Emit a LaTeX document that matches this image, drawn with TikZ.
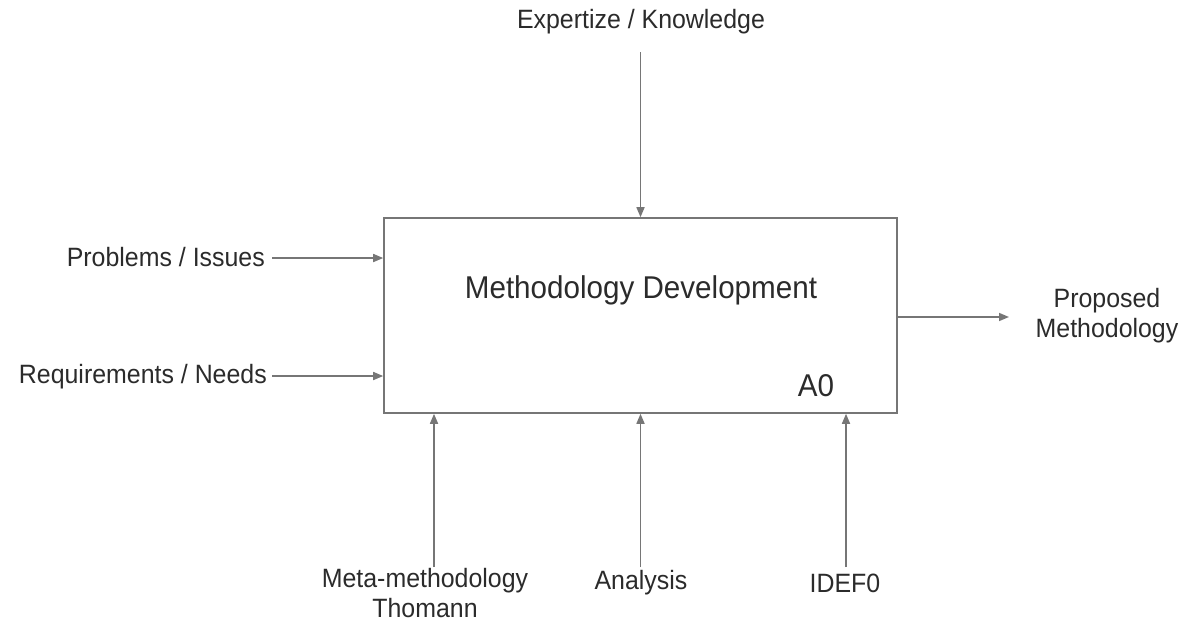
\documentclass[tikz,border=0pt]{standalone}
\usepackage{fontspec}
\setmainfont{Liberation Sans}[FakeStretch=0.94]
\usetikzlibrary{arrows.meta,positioning}
\definecolor{linegray}{HTML}{767676}
\definecolor{textgray}{HTML}{2B2B2B}
\tikzset{
  flow/.style={draw=linegray, line width=1.6pt, -{Triangle[length=10pt,width=8pt]}},
  lbl/.style={text=textgray, inner sep=0pt, font=\fontsize{26.5}{30}\selectfont, align=center},
  big/.style={text=textgray, inner sep=0pt, font=\fontsize{31.5}{36}\selectfont}
}
\begin{document}
\begin{tikzpicture}[x=1pt,y=-1pt]
        \useasboundingbox[fill=white] (0,0) rectangle (1184,621);
        % activity box
        \node[draw=linegray, line width=1.6pt, minimum width=513pt, minimum height=195pt] (box) at (640.5,315.5) {};
        \node[big] (title) at (641,290) {Methodology Development};
        \node[big] (code) at (816,386) {A0};
        % labels
        \node[lbl] (know) at (641,22) {Expertize / Knowledge};
        \node[lbl, anchor=east] (prob) at (265,257) {Problems / Issues};
        \node[lbl, anchor=east] (req) at (267,377) {Requirements / Needs};
        \node[lbl] (prop) at (1107,316) {Proposed\\Methodology};
        \node[lbl] (meta) at (425,593) {Meta-methodology\\Thomann};
        \node[lbl] (anal) at (641,583) {Analysis};
        \node[lbl] (idef) at (845,583) {IDEF0};
        % arrow tails
        \coordinate (knowin) at (640.5,52);
        \coordinate (probin) at (272,258);
        \coordinate (reqin) at (272,376);
        \coordinate (propout) at (1009,317);
        \coordinate (metain) at (434,567);
        \coordinate (analin) at (640.5,567);
        \coordinate (idefin) at (846,567);
        % connectors
        \draw[flow] (knowin) to (box.north);
        \draw[flow] (probin) to (box.west |- probin);
        \draw[flow] (reqin) to (box.west |- reqin);
        \draw[flow] (box.east |- propout) to (propout);
        \draw[flow] (metain) to (metain |- box.south);
        \draw[flow] (analin) to (analin |- box.south);
        \draw[flow] (idefin) to (idefin |- box.south);
\end{tikzpicture}
\end{document}
